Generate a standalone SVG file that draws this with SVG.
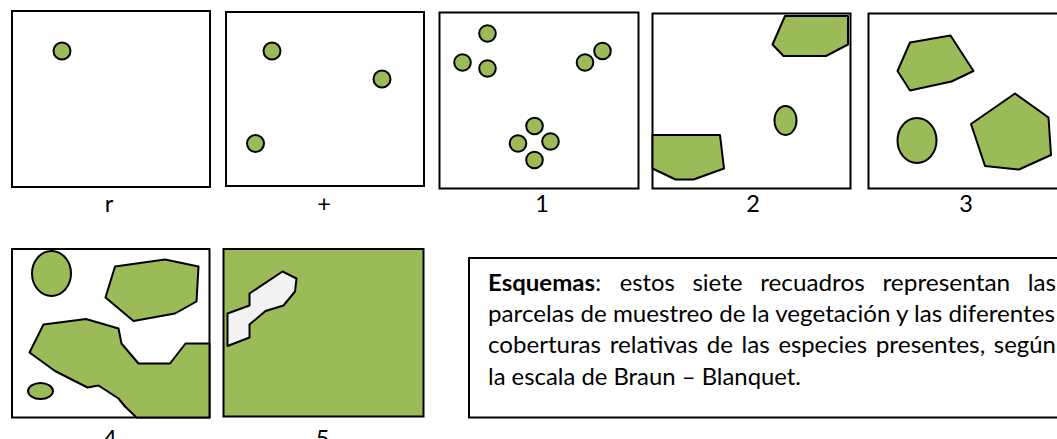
<svg xmlns="http://www.w3.org/2000/svg" width="1057" height="439" viewBox="0 0 1057 439">
<style>
.frame{fill:#ffffff;stroke:#000000;stroke-width:2}
.sp{fill:#9bbb59;stroke:#000000;stroke-width:2;stroke-linejoin:round}
.gap{fill:#f2f2f2;stroke:#000000;stroke-width:2;stroke-linejoin:round}
.lbl{font-family:Lato,"Open Sans","Liberation Sans",sans-serif;font-size:23.5px;fill:#000000;text-anchor:middle}
.txt{font-family:Lato,"Open Sans","Liberation Sans",sans-serif;font-size:23.5px;fill:#000000}
.b{font-weight:bold}
</style>
<rect width="1057" height="439" fill="#ffffff"/>

<g id="panel-r">
<rect class="frame" x="12" y="11" width="198" height="176"/>
<circle class="sp" cx="62" cy="51" r="8.5"/>
<text class="lbl" x="109" y="212">r</text>
</g>

<g id="panel-plus">
<rect class="frame" x="226" y="12" width="198" height="174"/>
<circle class="sp" cx="272" cy="51" r="8.5"/>
<circle class="sp" cx="382" cy="79" r="8.5"/>
<circle class="sp" cx="255.5" cy="143.5" r="8.5"/>
<text class="lbl" x="324" y="212">+</text>
</g>

<g id="panel-1">
<rect class="frame" x="439.5" y="12.5" width="199" height="176"/>
<circle class="sp" cx="487.5" cy="33.5" r="8.3"/>
<circle class="sp" cx="462.5" cy="62.5" r="8.3"/>
<circle class="sp" cx="487.5" cy="68.5" r="8.3"/>
<circle class="sp" cx="585" cy="62.5" r="8.3"/>
<circle class="sp" cx="602.5" cy="51" r="8.3"/>
<circle class="sp" cx="534.5" cy="126" r="8.3"/>
<circle class="sp" cx="518" cy="143.5" r="8.3"/>
<circle class="sp" cx="550.5" cy="141.5" r="8.3"/>
<circle class="sp" cx="534.5" cy="160" r="8.3"/>
<text class="lbl" x="542" y="212">1</text>
</g>

<g id="panel-2">
<rect class="frame" x="652.5" y="13.5" width="198" height="175"/>
<polygon class="sp" points="785,16 848,16 848,44.5 826,56 783.5,56 772.5,44.5"/>
<ellipse class="sp" cx="785.5" cy="120.5" rx="11" ry="14.5"/>
<polygon class="sp" points="652.5,135 720,135 724,168.5 693.5,179.5 675.5,179.5 652.5,168.5"/>
<text class="lbl" x="753" y="212">2</text>
</g>

<g id="panel-3">
<rect class="frame" x="868.5" y="13.5" width="195" height="175"/>
<polygon class="sp" points="910,42.5 950.5,35.5 973.5,71 951.5,81.5 910,90.5 897.5,71"/>
<ellipse class="sp" cx="917" cy="140.5" rx="19.5" ry="22.5"/>
<polygon class="sp" points="1015,93.5 1048.5,117.5 1051,155 1019,169.5 985,166 971,124"/>
<text class="lbl" x="966" y="212">3</text>
</g>

<g id="panel-4">
<rect class="frame" x="12" y="249" width="197.5" height="168.5"/>
<ellipse class="sp" cx="51.5" cy="273.5" rx="19.5" ry="22.5"/>
<polygon class="sp" points="115,266.5 165,259.5 198.5,266.5 196.5,301.5 175,313.5 133.5,321 105.5,297.5"/>
<ellipse class="sp" cx="40.5" cy="391" rx="12.5" ry="8"/>
<polygon class="sp" points="43.5,324.5 86,319 118.5,328.5 121.5,343.5 138.5,363.5 170,363.5 185.5,343.5 209.5,343.5 209.5,417.5 136.5,417.5 125,406.5 118.5,398.5 98.5,385.5 87.5,387.5 55,371 29.5,352.5"/>
<text class="lbl" x="110" y="447">4</text>
</g>

<g id="panel-5">
<rect class="frame" x="223.5" y="249" width="200" height="167.5" style="fill:#9bbb59"/>
<polygon class="gap" points="282.5,271.5 296.5,278.5 295,291.5 283.5,305.5 265.5,311 249.5,324.5 249.5,337.5 227.5,346 227.5,313.5 249.5,305.5 249.5,293.5"/>
<text class="lbl" x="322.5" y="447">5</text>
</g>

<g id="caption">
<rect class="frame" x="469" y="258" width="600" height="159.5"/>
<text class="txt b" x="488" y="290.5" textLength="107" lengthAdjust="spacingAndGlyphs">Esquemas</text>
<text class="txt" x="595.2" y="290.5">:</text>
<text class="txt" x="619.8" y="290.5" textLength="55" lengthAdjust="spacingAndGlyphs">estos</text>
<text class="txt" x="692.4" y="290.5" textLength="50" lengthAdjust="spacingAndGlyphs">siete</text>
<text class="txt" x="760.2" y="290.5" textLength="104.5" lengthAdjust="spacingAndGlyphs">recuadros</text>
<text class="txt" x="882.4" y="290.5" textLength="127.8" lengthAdjust="spacingAndGlyphs">representan</text>
<text class="txt" x="1027.8" y="290.5" textLength="28.2" lengthAdjust="spacingAndGlyphs">las</text>
<text class="txt" x="488" y="321.9" textLength="567" lengthAdjust="spacingAndGlyphs">parcelas de muestreo de la vegetación y las diferentes</text>
<text class="txt" x="488" y="353.3" textLength="113" lengthAdjust="spacingAndGlyphs">coberturas</text>
<text class="txt" x="609.7" y="353.3" textLength="88.4" lengthAdjust="spacingAndGlyphs">relativas</text>
<text class="txt" x="706.7" y="353.3" textLength="26.3" lengthAdjust="spacingAndGlyphs">de</text>
<text class="txt" x="741.6" y="353.3" textLength="28.2" lengthAdjust="spacingAndGlyphs">las</text>
<text class="txt" x="778.4" y="353.3" textLength="88.7" lengthAdjust="spacingAndGlyphs">especies</text>
<text class="txt" x="875.7" y="353.3" textLength="109.5" lengthAdjust="spacingAndGlyphs">presentes,</text>
<text class="txt" x="993.8" y="353.3" textLength="62" lengthAdjust="spacingAndGlyphs">según</text>
<text class="txt" x="488" y="384.7" textLength="313" lengthAdjust="spacingAndGlyphs">la escala de Braun – Blanquet.</text>
</g>
</svg>
